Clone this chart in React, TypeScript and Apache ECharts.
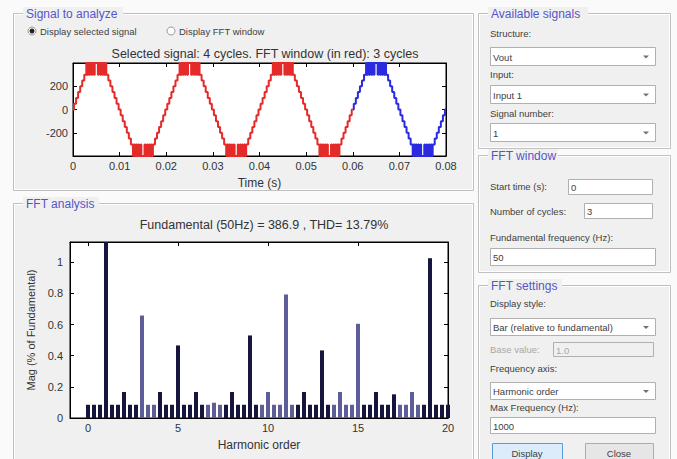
import React, { useEffect, useRef } from "react";
import * as echarts from "echarts";

// ---------- data ----------
// one cycle of the staircase (multilevel) output voltage: time in ms, value in V
const cycleTimesMs = [
  0, 0.22, 0.66, 1.1, 1.54, 1.98, 2.42,
  2.86, 3.06, 3.3, 3.52, 3.72, 4.0, 4.18, 4.5, 4.66, 5.34, 5.5, 5.82, 6.0, 6.28, 6.48, 6.7, 6.94, 7.14,
  7.58, 8.02, 8.46, 8.9, 9.34, 9.78, 10.22, 10.66, 11.1, 11.54, 11.98, 12.42,
  12.86, 13.06, 13.3, 13.52, 13.72, 14.0, 14.18, 14.5, 14.66, 15.34, 15.5, 15.82, 16.0, 16.28, 16.48, 16.7, 16.94, 17.14,
  17.58, 18.02, 18.46, 18.9, 19.34, 19.78,
];
const cycleVolts = [
  0, 50, 100, 150, 200, 250, 300,
  400, 300, 400, 300, 400, 300, 400, 300, 400, 300, 400, 300, 400, 300, 400, 300, 400, 300,
  250, 200, 150, 100, 50, 0, -50, -100, -150, -200, -250, -300,
  -400, -300, -400, -300, -400, -300, -400, -300, -400, -300, -400, -300, -400, -300, -400, -300, -400, -300,
  -250, -200, -150, -100, -50, 0,
];
const cycleLengthS = 0.02;
const selectedCycles = 4;
const fftWindowCycles = 3;

const timeTickValues = [0, 0.01, 0.02, 0.03, 0.04, 0.05, 0.06, 0.07, 0.08];
const signalTickValues = [-200, 0, 200];

// FFT bins (resolution = 1/3 harmonic because the window holds 3 cycles)
const fftMagnitudes = [
  0.085, 0.085, 0.085, // h0
  100, 0.085, 0.085, // h1 (fundamental, 100 %)
  0.167, 0.085, 0.085, // h2
  0.658, 0.085, 0.085, // h3
  0.167, 0.085, 0.085, // h4
  0.466, 0.085, 0.085, // h5
  0.167, 0.085, 0.085, // h6
  0.098, 0.085, 0.085, // h7
  0.167, 0.085, 0.085, // h8
  0.53, 0.085, 0.085, // h9
  0.167, 0.085, 0.085, // h10
  0.793, 0.085, 0.085, // h11
  0.167, 0.085, 0.085, // h12
  0.434, 0.085, 0.085, // h13
  0.167, 0.085, 0.085, // h14
  0.605, 0.085, 0.085, // h15
  0.167, 0.085, 0.085, // h16
  0.152, 0.085, 0.085, // h17
  0.167, 0.085, 0.085, // h18
  1.026, 0.085, 0.085, // h19
  0.085, // h20
];
const harmonicTickValues = [0, 5, 10, 15, 20];
const magTickValues = [0, 0.2, 0.4, 0.6, 0.8, 1];

const signalTitle = "Selected signal: 4 cycles. FFT window (in red): 3 cycles";
const fftTitle = "Fundamental (50Hz) = 386.9 , THD= 13.79%";

// ---------- styles ----------
const FONT = '"Liberation Sans", Arial, sans-serif';
const PANEL_BG = "#f0f0f0";
const TITLE_BLUE = "#5555c8";
const LABEL = "#404040";
const TEXT = "#333333";
const BAR_DARK = "#15153d";
const BAR_LIGHT = "#5d5d99";
const lightBins = [9, 10, 11, 20, 21, 22, 29, 30, 31, 32, 33, 34, 41, 42, 43, 44, 45, 52, 53, 54, 55];

function frame(x: number, y: number, w: number, h: number, title: string, titleW: number) {
  return [
    { type: "rect", z: -10, silent: true, shape: { x: x + 0.5, y: y + 0.5, width: w, height: h }, style: { fill: PANEL_BG, stroke: "#c0c0c0", lineWidth: 1 } },
    { type: "rect", z: -9, silent: true, shape: { x: x + 1.5, y: y + 1.5, width: w - 2, height: h - 2 }, style: { fill: "none", stroke: "#ffffff", lineWidth: 1 } },
    { type: "rect", z: -8, silent: true, shape: { x: x + 10, y: y - 6, width: titleW, height: 12 }, style: { fill: PANEL_BG } },
    { type: "text", z: -7, x: x + 13, y: y + 1, style: { text: title, fill: TITLE_BLUE, fontSize: 12, fontFamily: FONT, textVerticalAlign: "middle" } },
  ];
}

function label(x: number, y: number, text: string, color = LABEL) {
  return { type: "text", z: -5, x, y, style: { text, fill: color, fontSize: 9.5, fontFamily: FONT, textVerticalAlign: "middle" } };
}

function box(x: number, y: number, w: number, h: number, text: string, disabled = false) {
  return [
    { type: "rect", z: -6, shape: { x: x + 0.5, y: y + 0.5, width: w, height: h }, style: { fill: disabled ? "#f0f0f0" : "#ffffff", stroke: "#b0b0b0", lineWidth: 1 } },
    { type: "text", z: -5, x: x + 3, y: y + h / 2 + 1, style: { text, fill: disabled ? "#a8a8a8" : LABEL, fontSize: 9.5, fontFamily: FONT, textVerticalAlign: "middle" } },
  ];
}

function dropdown(x: number, y: number, w: number, h: number, text: string) {
  const ax = x + w - 9;
  const ay = y + h / 2 + 1;
  return [
    ...box(x, y, w, h, text),
    { type: "polygon", z: -5, shape: { points: [[ax - 3, ay - 1.5], [ax + 3, ay - 1.5], [ax, ay + 1.5]] }, style: { fill: "#707070" } },
  ];
}

function button(x: number, y: number, w: number, h: number, text: string, focused: boolean) {
  return [
    { type: "rect", z: -6, shape: { x: x + 0.5, y: y + 0.5, width: w, height: h }, style: { fill: focused ? "#dcecfb" : "#e6e6e6", stroke: focused ? "#5a9ad6" : "#acacac", lineWidth: 1 } },
    { type: "text", z: -5, x: x + w / 2, y: y + h / 2 + 1, style: { text, fill: LABEL, fontSize: 9.5, fontFamily: FONT, textAlign: "center", textVerticalAlign: "middle" } },
  ];
}

function radio(x: number, y: number, text: string, selected: boolean) {
  const els: any[] = [
    { type: "circle", z: -6, shape: { cx: x, cy: y, r: 4 }, style: { fill: "#ffffff", stroke: "#9a9a9a", lineWidth: 1 } },
    label(x + 8, y, text),
  ];
  if (selected) els.push({ type: "circle", z: -5, shape: { cx: x, cy: y, r: 2.5 }, style: { fill: "#222" } });
  return els;
}

export default function App() {
  const ref = useRef<HTMLDivElement>(null);

  useEffect(() => {
    if (!ref.current) return;
    const chart = echarts.init(ref.current, undefined, { renderer: "svg" });

    const redData: number[][] = [];
    const blueData: number[][] = [];
    for (let c = 0; c < selectedCycles; c++) {
      const target = c < fftWindowCycles ? redData : blueData;
      for (let i = 0; i < cycleTimesMs.length; i++) {
        target.push([c * cycleLengthS + cycleTimesMs[i] / 1000, cycleVolts[i]]);
      }
    }
    redData.push([fftWindowCycles * cycleLengthS, 0]);
    blueData.push([selectedCycles * cycleLengthS, 0]);

    const barData = fftMagnitudes.map((v, i) => ({
      value: [i / fftWindowCycles, v],
      itemStyle: { color: lightBins.includes(i) ? BAR_LIGHT : BAR_DARK },
    }));

    const axisLine = { show: true, onZero: false, lineStyle: { color: "#000", width: 1 } };
    const tickIn = (custom?: number[]) => ({ show: true, inside: true, length: 4, lineStyle: { color: "#000" }, ...(custom ? { customValues: custom } : {}) });
    const lbl = { color: TEXT, fontSize: 11, fontFamily: FONT };
    const nameStyle = { color: TEXT, fontSize: 12, fontFamily: FONT };

    const graphics: any[] = [
      ...frame(13, 13, 460, 177, "Signal to analyze", 100),
      ...frame(13, 203, 460, 270, "FFT analysis", 76),
      ...frame(478, 13, 192, 135, "Available signals", 100),
      ...frame(478, 155, 192, 117, "FFT window", 70),
      ...frame(478, 285, 192, 190, "FFT settings", 74),
      ...radio(32, 31, "Display selected signal", true),
      ...radio(171, 31, "Display FFT window", false),
      label(490, 33, "Structure:"),
      ...dropdown(490, 47, 165, 18, "Vout"),
      label(490, 74, "Input:"),
      ...dropdown(490, 85, 165, 18, "Input 1"),
      label(490, 113, "Signal number:"),
      ...dropdown(490, 123, 165, 18, "1"),
      label(490, 186, "Start time (s):"),
      ...box(568, 179, 84, 15, "0"),
      label(490, 211, "Number of cycles:"),
      ...box(584, 203, 68, 15, "3"),
      label(490, 237, "Fundamental frequency (Hz):"),
      ...box(490, 248, 165, 17, "50"),
      label(490, 303, "Display style:"),
      ...dropdown(490, 318, 165, 17, "Bar (relative to fundamental)"),
      label(490, 349, "Base value:", "#a8a8a8"),
      ...box(553, 342, 100, 14, "1.0", true),
      label(490, 368, "Frequency axis:"),
      ...dropdown(490, 382, 165, 17, "Harmonic order"),
      label(490, 407, "Max Frequency (Hz):"),
      ...box(490, 417, 165, 16, "1000"),
      ...button(492, 443, 70, 18, "Display", true),
      ...button(585, 443, 68, 18, "Close", false),
    ];

    chart.setOption({
      animation: false,
      backgroundColor: "#fafafa",
      textStyle: { fontFamily: FONT },
      title: [
        { text: signalTitle, left: 260, top: 42, textAlign: "center", textStyle: { fontSize: 12.5, fontWeight: "normal", color: TEXT, fontFamily: FONT } },
        { text: fftTitle, left: 259, top: 213, textAlign: "center", textStyle: { fontSize: 12.5, fontWeight: "normal", color: TEXT, fontFamily: FONT } },
      ],
      grid: [
        { left: 73, top: 63, width: 373, height: 93, show: true, backgroundColor: "#ffffff", borderColor: "#000", borderWidth: 1 },
        { left: 70, top: 242, width: 378, height: 176, show: true, backgroundColor: "#ffffff", borderColor: "#000", borderWidth: 1 },
      ],
      xAxis: [
        {
          type: "value", gridIndex: 0, min: 0, max: 0.08, interval: 0.01,
          axisLine, axisTick: tickIn(timeTickValues), splitLine: { show: false },
          axisLabel: { ...lbl, margin: 4, customValues: timeTickValues, formatter: (v: number) => (v === 0 ? "0" : v.toFixed(2)) },
          name: "Time (s)", nameLocation: "middle", nameGap: 21, nameTextStyle: nameStyle,
        },
        { type: "value", gridIndex: 0, position: "top", min: 0, max: 0.08, interval: 0.01, axisLine, axisTick: tickIn(timeTickValues), axisLabel: { show: false }, splitLine: { show: false } },
        {
          type: "value", gridIndex: 1, min: -1, max: 20,
          axisLine, axisTick: tickIn(harmonicTickValues), splitLine: { show: false },
          axisLabel: { ...lbl, margin: 4, customValues: harmonicTickValues },
          name: "Harmonic order", nameLocation: "middle", nameGap: 21, nameTextStyle: nameStyle,
        },
        { type: "value", gridIndex: 1, position: "top", min: -1, max: 20, axisLine, axisTick: tickIn(harmonicTickValues), axisLabel: { show: false }, splitLine: { show: false } },
      ],
      yAxis: [
        {
          type: "value", gridIndex: 0, min: -400, max: 400, interval: 200,
          axisLine, axisTick: tickIn(signalTickValues), splitLine: { show: false },
          axisLabel: { ...lbl, margin: 5, customValues: signalTickValues },
        },
        { type: "value", gridIndex: 0, position: "right", min: -400, max: 400, interval: 200, axisLine, axisTick: tickIn(signalTickValues), axisLabel: { show: false }, splitLine: { show: false } },
        {
          type: "value", gridIndex: 1, min: 0, max: 1.13,
          axisLine, axisTick: tickIn(magTickValues), splitLine: { show: false },
          axisLabel: { ...lbl, margin: 7, customValues: magTickValues },
          name: "Mag (% of Fundamental)", nameLocation: "middle", nameGap: 27, nameTextStyle: { ...nameStyle, fontSize: 11 },
        },
        { type: "value", gridIndex: 1, position: "right", min: 0, max: 1.13, axisLine, axisTick: tickIn(magTickValues), axisLabel: { show: false }, splitLine: { show: false } },
      ],
      series: [
        {
          name: "FFT window", type: "line", xAxisIndex: 0, yAxisIndex: 0, data: redData, step: "end",
          symbol: "none", lineStyle: { color: "#e52a2a", width: 2 }, clip: true,
        },
        {
          name: "Signal", type: "line", xAxisIndex: 0, yAxisIndex: 0, data: blueData, step: "end",
          symbol: "none", lineStyle: { color: "#2a2ae0", width: 2 }, clip: true,
        },
        {
          name: "Harmonics", type: "bar", xAxisIndex: 2, yAxisIndex: 2, data: barData, barWidth: 4, clip: true,
        },
      ],
      graphic: graphics,
    });

    return () => chart.dispose();
  }, []);

  return <div ref={ref} style={{ position: "fixed", left: 0, top: 0, width: 677, height: 459 }} />;
}
